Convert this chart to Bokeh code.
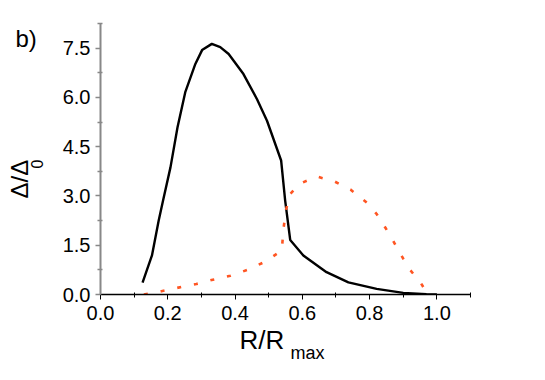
from bokeh.plotting import figure
from bokeh.models import FixedTicker, NumeralTickFormatter, Range1d, Title
from bokeh.embed import file_html
from bokeh.resources import INLINE

black_x = [0.125, 0.153, 0.173, 0.186, 0.208, 0.229, 0.252, 0.282, 0.302, 0.331, 0.356, 0.381,
           0.425, 0.465, 0.495, 0.537, 0.549, 0.564, 0.603, 0.672, 0.737, 0.821, 0.900, 0.969, 1.0]
black_y = [0.36, 1.19, 2.25, 2.86, 3.87, 5.09, 6.16, 7.02, 7.44, 7.63, 7.53, 7.32,
           6.71, 5.95, 5.29, 4.08, 2.86, 1.66, 1.19, 0.68, 0.37, 0.17, 0.05, 0.01, 0.0]

orange_x = [0.129, 0.181, 0.232, 0.285, 0.334, 0.386, 0.437, 0.49, 0.539, 0.544, 0.552, 0.564,
            0.592, 0.643, 0.694, 0.744, 0.796, 0.821, 0.849, 0.867, 0.9, 0.918, 0.953, 0.97]
orange_y = [0.0, 0.1, 0.21, 0.32, 0.45, 0.57, 0.75, 1.0, 1.34, 2.0, 2.6, 3.06,
            3.37, 3.59, 3.45, 3.19, 2.76, 2.45, 2.0, 1.69, 1.09, 0.78, 0.34, 0.05]

x_major = [0.0, 0.2, 0.4, 0.6, 0.8, 1.0]
x_minor = [0.1, 0.3, 0.5, 0.7, 0.9, 1.1]
y_major = [0.0, 1.5, 3.0, 4.5, 6.0, 7.5]
y_minor = [0.75, 2.25, 3.75, 5.25, 6.75, 8.25]

FONT = "Liberation Sans"

p = figure(width=529, height=364, output_backend="svg", toolbar_location=None,
           x_range=Range1d(0, 1.1), y_range=Range1d(0, 8.25),
           min_border_left=100, min_border_right=59, min_border_top=23, min_border_bottom=70)
p.outline_line_color = None
p.xgrid.visible = False
p.ygrid.visible = False
p.background_fill_color = "white"
p.border_fill_color = "white"

p.line(black_x, black_y, line_color="black", line_width=2.4)
p.line(orange_x, orange_y, line_color="#ff5522", line_width=2.6, line_dash="4 13")

for ax, maj, mn in ((p.xaxis[0], x_major, x_minor), (p.yaxis[0], y_major, y_minor)):
    ax.ticker = FixedTicker(ticks=maj, minor_ticks=mn)
    ax.formatter = NumeralTickFormatter(format="0.0")
    ax.major_label_text_font = FONT
    ax.major_label_text_font_size = "20px"
    ax.major_label_text_color = "black"
    ax.major_tick_out = 5
    ax.major_tick_in = 0
    ax.minor_tick_out = 3
    ax.minor_tick_in = 2
    ax.axis_label = None

p.xaxis.axis_line_color = "black"
p.xaxis.axis_line_width = 1.5
p.xaxis.major_tick_line_color = "black"
p.xaxis.minor_tick_line_color = "black"
p.xaxis.major_label_standoff = 6
p.yaxis.axis_line_color = "#888888"
p.yaxis.axis_line_width = 2
p.yaxis.major_tick_line_color = "#888888"
p.yaxis.minor_tick_line_color = "#888888"
p.yaxis.major_tick_line_width = 1.5
p.yaxis.minor_tick_line_width = 1.5
p.yaxis.major_label_standoff = 5


def title(text, side, size, offset, standoff, valign):
    p.add_layout(Title(text=text, align="left", offset=offset, standoff=standoff,
                       vertical_align=valign, text_font=FONT, text_font_size=size,
                       text_font_style="normal", text_color="black"), side)

# x-axis label with subscript
title("R/R", "below", "26px", 139, 4, "top")
title("max", "below", "18px", 190, -32, "top")
# y-axis label with subscript
title("0", "left", "16px", 126, 34, "bottom")
title("\u0394/\u0394", "left", "24px", 96, -42, "bottom")
# panel tag
title("b)", "above", "24px", -85, -56, "bottom")

open("out.html", "w").write(file_html(p, INLINE))
